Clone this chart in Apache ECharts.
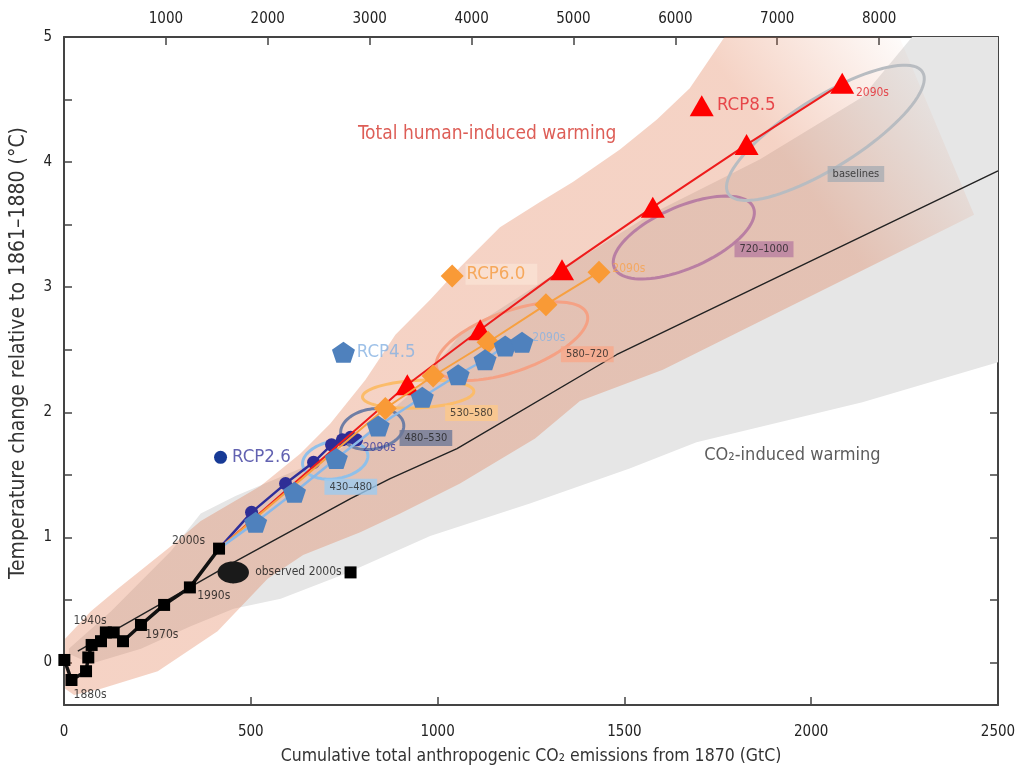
<!DOCTYPE html>
<html><head><meta charset="utf-8">
<script src="https://cdn.jsdelivr.net/npm/echarts@6/dist/echarts.min.js"></script>
<style>html,body{margin:0;padding:0;background:#fff}#c{width:1019px;height:770px}</style>
</head><body><div id="c"></div>
<script>
const FONT = "'Liberation Sans Narrow','DejaVu Sans Condensed',sans-serif";
const GTC_TO_GTCO2 = 44 / 12;

// ---- axes ----
const xLabelsTop = [1000, 2000, 3000, 4000, 5000, 6000, 7000, 8000];
const xTicksTop = [1000, 2000, 3000, 4000, 5000, 6000, 7000, 8000, 9000];
const yLabels = [0, 1, 2, 3, 4, 5];
const yTicks = [0, 0.5, 1, 1.5, 2, 2.5, 3, 3.5, 4, 4.5, 5];

// ---- observed decades (GtC, °C) ----
const observed = [[1,0.02],[20,-0.14],[59,-0.07],[65,0.04],[74,0.14],[99,0.17],[112,0.24],[133,0.24],[158,0.17],[206,0.30],[268,0.46],[337,0.60],[415,0.91]];
const rcpStart = [415, 0.91];
const rcp26 = [[502,1.20],[593,1.43],[668,1.60],[716,1.74],[745,1.78],[767,1.80],[783,1.78]];
const rcp45 = [[513,1.12],[617,1.36],[729,1.63],[841,1.89],[959,2.12],[1055,2.30],[1127,2.42],[1181,2.53],[1226,2.56]];
const rcp60 = [[860,2.03],[988,2.29],[1135,2.56],[1290,2.86],[1432,3.12]];
const rcp85 = [[919,2.22],[1114,2.66],[1333,3.14],[1576,3.64],[1827,4.14],[2083,4.63]];
const co2Line = [[37,0.09],[454,0.80],[767,1.31],[873,1.47],[1052,1.71],[1479,2.46],[2500,3.93]];

// ---- ranges ----
const grayUpper = [[13,0.11],[126,0.41],[286,0.89],[366,1.19],[459,1.33],[633,1.55],[793,1.79],[954,2.22],[1060,2.62],[1247,2.98],[1568,3.58],[1862,4.02],[2137,4.52],[2270,5.0],[2500,5.0]];
const grayLower = [[2500,2.40],[2137,2.08],[1693,1.76],[1514,1.55],[1247,1.27],[980,1.01],[753,0.71],[580,0.51],[454,0.43],[339,0.29],[206,0.11],[72,-0.01],[13,0.07]];
const pinkUpper = [[3,0.19],[72,0.41],[144,0.59],[286,0.93],[366,1.13],[526,1.41],[633,1.67],[713,1.91],[807,2.26],[887,2.62],[980,2.90],[1060,3.16],[1167,3.48],[1274,3.68],[1362,3.84],[1488,4.10],[1587,4.34],[1675,4.59],[1768,5.0],[2236,5.0],[2436,3.58]];
const pinkLower = [[2396,3.52],[1603,2.34],[1381,2.09],[1261,1.79],[1060,1.43],[900,1.19],[793,1.04],[640,0.86],[545,0.67],[411,0.25],[251,-0.07],[99,-0.21],[27,-0.26],[3,-0.21]];

// ---- scenario category ellipses: centre, major half-axis vector, minor half-axis (°C) ----
const ellipseNames = ['430–480', '480–530', '530–580', '580–720', '720–1000', 'baselines'];
const ellipseCenter = [[726,1.62],[825,1.866],[948,2.145],[1199,2.568],[1659,3.397],[2038,4.234]];
const ellipseMajor = [[87,0.046],[84,0.044],[149,0.023],[201,0.218],[186,0.242],[260,0.486]];
const ellipseMinor = [0.15, 0.16, 0.11, 0.24, 0.247, 0.28];
const ellipseLabelAt = [[769,1.40],[970,1.79],[1092,1.99],[1402,2.46],[1875,3.30],[2121,3.90]];
const observedMean = [453, 0.72];
const observedSpread = [42, 0.088];

const ellipseStroke = ['#8fc0ea','#6f7ea5','#fbbc6a','#f5a184','#b97fa3','#b8bcc1'];
const ellipseLabelBg = ['#9ccbf0','#6d7897','#fcc888','#f7a88a','#b87ea0','#a9adb3'];

const chart = echarts.init(document.getElementById('c'), null, {renderer: 'canvas'});

function band(upper, lower, fill, z) {
  return {
    type: 'custom', xAxisIndex: 0, yAxisIndex: 0, z, silent: true, clip: true,
    data: [[0, 0]],
    renderItem: (params, api) => ({
      type: 'polygon',
      shape: {points: upper.concat(lower).map(p => api.coord(p))},
      style: {fill}
    })
  };
}

const pinkFill = new echarts.graphic.LinearGradient(0, 1, 1, 0, [
  {offset: 0, color: 'rgba(222,108,62,0.3)'},
  {offset: 0.8, color: 'rgba(222,108,62,0.3)'},
  {offset: 0.96, color: 'rgba(222,108,62,0)'}
]);

function ellipsePoints(api, c0, e0, bVal) {
  const c = api.coord(c0);
  const e = api.coord([c0[0] + e0[0], c0[1] + e0[1]]);
  const dx = e[0] - c[0], dy = e[1] - c[1];
  const a = Math.hypot(dx, dy), ang = Math.atan2(dy, dx);
  const b = api.size([0, bVal])[1];
  const pts = [];
  for (let k = 0; k < 90; k++) {
    const t = k / 90 * Math.PI * 2;
    const x = a * Math.cos(t), y = b * Math.sin(t);
    pts.push([c[0] + x * Math.cos(ang) - y * Math.sin(ang), c[1] + x * Math.sin(ang) + y * Math.cos(ang)]);
  }
  return pts;
}

const pentagon = 'path://M10,0 L19.51,6.91 L15.88,18.09 L4.12,18.09 L0.49,6.91 Z';

function rcpSeries(name, pts, symbol, size, color, lineColor, lw, z) {
  return {
    name, type: 'line', z, xAxisIndex: 0, yAxisIndex: 0,
    data: [{value: rcpStart, symbol: 'none'}].concat(pts.map(p => ({value: p}))),
    symbol, symbolSize: size, showSymbol: true, showAllSymbol: true,
    itemStyle: {color, opacity: 1}, lineStyle: {color: lineColor, width: lw},
    silent: true
  };
}

function note(text, at, color, size, align, extra) {
  return {value: at, symbol: 'circle', symbolSize: 1, itemStyle: {color: 'rgba(0,0,0,0)'},
    label: Object.assign({
      show: true, formatter: text, color, fontSize: size, fontFamily: FONT,
      position: [0, 0], align, verticalAlign: 'middle'
    }, extra || {})};
}

const notes = [
  note('Total human-induced warming', [788, 4.22], '#d5342c', 19, 'left'),
  note('CO₂-induced warming', [1715, 1.65], '#333', 18, 'left'),
  note('RCP8.5', [1749, 4.45], '#e4232a', 18.5, 'left'),
  note('RCP6.0', [1076, 3.10], '#f59a3d', 18.5, 'left', {backgroundColor: 'rgba(250,228,214,0.85)', padding: [1, 12, 1, 1]}),
  note('RCP4.5', [785, 2.48], '#86b1e2', 18.5, 'left'),
  note('RCP2.6', [451, 1.64], '#3b3b9e', 18.5, 'left'),
  note('2090s', [2121, 4.55], '#e4232a', 12, 'left'),
  note('2090s', [1469, 3.14], '#f8a24d', 12, 'left'),
  note('2090s', [1255, 2.59], '#86b1e2', 12, 'left'),
  note('2090s', [801, 1.71], '#3b3b9e', 12, 'left'),
  note('2000s', [379, 0.965], '#111', 12, 'right'),
  note('1990s', [358, 0.53], '#111', 12, 'left'),
  note('1970s', [219, 0.22], '#111', 12, 'left'),
  note('1940s', [27, 0.33], '#111', 12, 'left'),
  note('1880s', [27, -0.26], '#111', 12, 'left'),
  note('observed 2000s', [513, 0.72], '#111', 12, 'left')
];
ellipseNames.forEach((n, i) => notes.push(note(n, ellipseLabelAt[i], '#222', 11, 'center',
  {backgroundColor: ellipseLabelBg[i], padding: [3, 5, 2, 5]})));

const legendMarks = [
  {value: [1707, 4.45], symbol: 'triangle', symbolSize: [24, 21], itemStyle: {color: '#ff0000', opacity: 1}},
  {value: [1039, 3.09], symbol: 'diamond', symbolSize: [23, 23], itemStyle: {color: '#f99a36', opacity: 1}},
  {value: [748, 2.48], symbol: pentagon, symbolSize: [23, 21], itemStyle: {color: '#4f81bd', opacity: 1}},
  {value: [419, 1.64], symbol: 'circle', symbolSize: 13, itemStyle: {color: '#173a96', opacity: 1}},
  {value: [767, 0.72], symbol: 'rect', symbolSize: 12, itemStyle: {color: '#000', opacity: 1}}
];

const axisLine = {show: true, onZero: false, lineStyle: {color: '#444', width: 2}};
const tickStyle = {color: '#444', width: 1.5};
const labelStyle = {fontFamily: FONT, fontSize: 15, color: '#222', formatter: v => String(v)};

chart.setOption({
  animation: false,
  backgroundColor: '#fff',
  grid: {left: 63, right: 21, top: 37, bottom: 62, containLabel: false},
  xAxis: [
    {type: 'value', min: 0, max: 2500, interval: 500, position: 'bottom',
     axisLine, axisTick: {inside: true, length: 8, lineStyle: tickStyle},
     axisLabel: Object.assign({margin: 20}, labelStyle), splitLine: {show: false},
     name: 'Cumulative total anthropogenic CO₂ emissions from 1870 (GtC)',
     nameLocation: 'middle', nameGap: 42,
     nameTextStyle: {fontFamily: FONT, fontSize: 17.5, color: '#333'}},
    {type: 'value', min: 0, max: 2500 * GTC_TO_GTCO2, position: 'top',
     axisLine, axisTick: {inside: true, length: 8, lineStyle: tickStyle, customValues: xTicksTop},
     axisLabel: Object.assign({margin: 10, customValues: xLabelsTop}, labelStyle), splitLine: {show: false}}
  ],
  yAxis: [
    {type: 'value', min: -0.34, max: 5, position: 'left',
     axisLine, axisTick: {inside: true, length: 8, lineStyle: tickStyle, customValues: yTicks},
     axisLabel: Object.assign({margin: 12, customValues: yLabels}, labelStyle), splitLine: {show: false},
     name: 'Temperature change relative to 1861–1880 (°C)', nameLocation: 'middle', nameGap: 35, nameRotate: 90,
     nameTextStyle: {fontFamily: FONT, fontSize: 21, color: '#333', padding: [0, 0, 0, 36]}},
    {type: 'value', min: -0.34, max: 5, position: 'right',
     axisLine, axisTick: {inside: true, length: 8, lineStyle: tickStyle, customValues: yTicks},
     axisLabel: {show: false}, splitLine: {show: false}}
  ],
  series: [
    band(grayUpper, grayLower, '#e6e6e6', 1),
    band(pinkUpper, pinkLower, pinkFill, 2),
    {type: 'line', data: co2Line, symbol: 'none', z: 3, silent: true,
     lineStyle: {color: '#222', width: 1.4}},
    {type: 'custom', z: 4, silent: true, clip: true,
     data: ellipseCenter.map((c, i) => [c[0], c[1], i]),
     renderItem: (params, api) => {
       const i = params.dataIndex;
       return {type: 'polygon', shape: {points: ellipsePoints(api, ellipseCenter[i], ellipseMajor[i], ellipseMinor[i])},
               style: {fill: 'none', stroke: ellipseStroke[i], lineWidth: 3}};
     }},
    {type: 'custom', z: 4, silent: true,
     data: [observedMean],
     renderItem: (params, api) => ({type: 'polygon',
       shape: {points: ellipsePoints(api, observedMean, [observedSpread[0], 0], observedSpread[1])},
       style: {fill: '#1a1a1a'}})},
    rcpSeries('RCP2.6', rcp26, 'circle', 13, '#2e2e96', '#2e2e9a', 2.5, 5),
    rcpSeries('RCP8.5', rcp85, 'triangle', [24, 21], '#ff0000', '#ee1c1c', 2, 6),
    rcpSeries('RCP6.0', rcp60, 'diamond', [23, 23], '#f99a36', '#f7a040', 2, 7),
    rcpSeries('RCP4.5', rcp45, pentagon, [23, 21], '#4f81bd', '#8ab8e8', 2.5, 8),
    {type: 'line', data: observed, z: 9, symbol: 'rect', symbolSize: 12, showAllSymbol: true,
     itemStyle: {color: '#000'}, lineStyle: {color: '#111', width: 3.5}, silent: true},
    {type: 'scatter', z: 10, data: legendMarks, silent: true},
    {type: 'scatter', z: 11, data: notes, silent: true}
  ]
});
</script>
</body></html>
